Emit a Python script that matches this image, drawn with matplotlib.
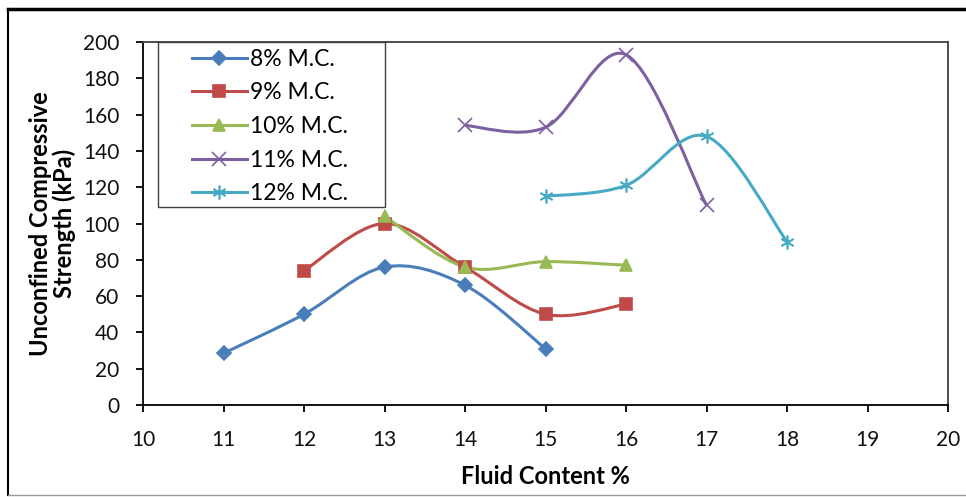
import numpy as np
import matplotlib.pyplot as plt
from matplotlib.path import Path
from matplotlib.patches import PathPatch, Rectangle
from matplotlib.lines import Line2D

plt.rcParams['font.family'] = ['Lato', 'DejaVu Sans']

# strength (kPa) against fluid content (%) for each moisture content
fc_8 = [11, 12, 13, 14, 15]
ucs_8 = [28.5, 50, 76, 66, 31]
fc_9 = [12, 13, 14, 15, 16]
ucs_9 = [74, 100, 76, 50, 55.5]
fc_10 = [13, 14, 15, 16]
ucs_10 = [104, 76, 79, 77]
fc_11 = [14, 15, 16, 17]
ucs_11 = [154, 153, 193, 110]
fc_12 = [15, 16, 17, 18]
ucs_12 = [115, 121, 148, 90]

labels = ['8% M.C.', '9% M.C.', '10% M.C.', '11% M.C.', '12% M.C.']
colors = ['#4A7EBB', '#BE4B48', '#98B954', '#7D60A0', '#46AAC5']
markers = ['D', 's', '^', 'x', (6, 2, 0)]
msizes = [7, 9, 9, 10, 10]

W, H = 966, 497


def smooth_path(xs, ys):
    # Catmull-Rom style cubic Bezier segments through the points
    pts = np.column_stack([xs, ys]).astype(float)
    n = len(pts)
    verts = [pts[0]]
    codes = [Path.MOVETO]
    for i in range(n - 1):
        p0 = pts[i - 1] if i > 0 else pts[i]
        p1 = pts[i]
        p2 = pts[i + 1]
        p3 = pts[i + 2] if i + 2 < n else pts[i + 1]
        c1 = p1 + (p2 - p0) / 6.0
        c2 = p2 - (p3 - p1) / 6.0
        verts += [c1, c2, p2]
        codes += [Path.CURVE4] * 3
    return Path(verts, codes)


fig = plt.figure(figsize=(W / 100, H / 100), dpi=100)
ax = fig.add_axes([143 / W, 1 - 405 / H, (948 - 143) / W, (405 - 42) / H])

series = [(fc_8, ucs_8), (fc_9, ucs_9), (fc_10, ucs_10), (fc_11, ucs_11), (fc_12, ucs_12)]
handles = []
for (xs, ys), lab, col, mk, ms in zip(series, labels, colors, markers, msizes):
    ax.add_patch(PathPatch(smooth_path(xs, ys), facecolor='none', edgecolor=col,
                           lw=2.2, zorder=2))
    ax.plot(xs, ys, ls='none', marker=mk, ms=ms, color=col, mec=col,
            mew=1.2, zorder=3)
    handles.append(Line2D([], [], color=col, lw=2.2, marker=mk, ms=ms, mew=1.2,
                          label=lab))

ax.set_xlim(10, 20)
ax.set_ylim(0, 200)
ax.set_xticks(range(10, 21))
ax.set_yticks(range(0, 201, 20))
ax.tick_params(axis='both', labelsize=15, direction='out', length=5, width=1.3,
               color='black', labelcolor='#111111')
ax.tick_params(axis='x', pad=13)
ax.tick_params(axis='y', pad=12)
for s in ax.spines.values():
    s.set_linewidth(1.3)
    s.set_color('black')
ax.spines['top'].set_color('#404040')
ax.spines['right'].set_color('#404040')

ax.set_xlabel('Fluid Content %', fontsize=17, fontweight='bold', labelpad=11)
ax.set_ylabel('Unconfined Compressive\nStrength (kPa)', fontsize=17,
              fontweight='bold', labelpad=5, linespacing=1.0)

# legend entries without frame, then a plain box around them
leg = ax.legend(handles=handles, loc='upper left',
                bbox_to_anchor=((186 - 143) / 805, 1 - 1 / 363), fontsize=16.5,
                frameon=False, handlelength=2.4, handletextpad=0.15,
                borderpad=0.25, labelspacing=0.55, borderaxespad=0)
fig.add_artist(Rectangle((158 / W, 1 - 207 / H), (385 - 158) / W, (207 - 42) / H,
                         transform=fig.transFigure, facecolor='none',
                         edgecolor='#404040', lw=1.0, zorder=5))

# outer frame around the chart
fig.add_artist(Line2D([8 / W, 1], [1 - 9 / H, 1 - 9 / H], color='black', lw=2.5))
fig.add_artist(Line2D([8 / W, 8 / W], [1 - 9 / H, 2 / H], color='black', lw=1.5))
fig.add_artist(Line2D([8 / W, 1], [2 / H, 2 / H], color='#999999', lw=1))

fig.savefig('out.png', dpi=100)
